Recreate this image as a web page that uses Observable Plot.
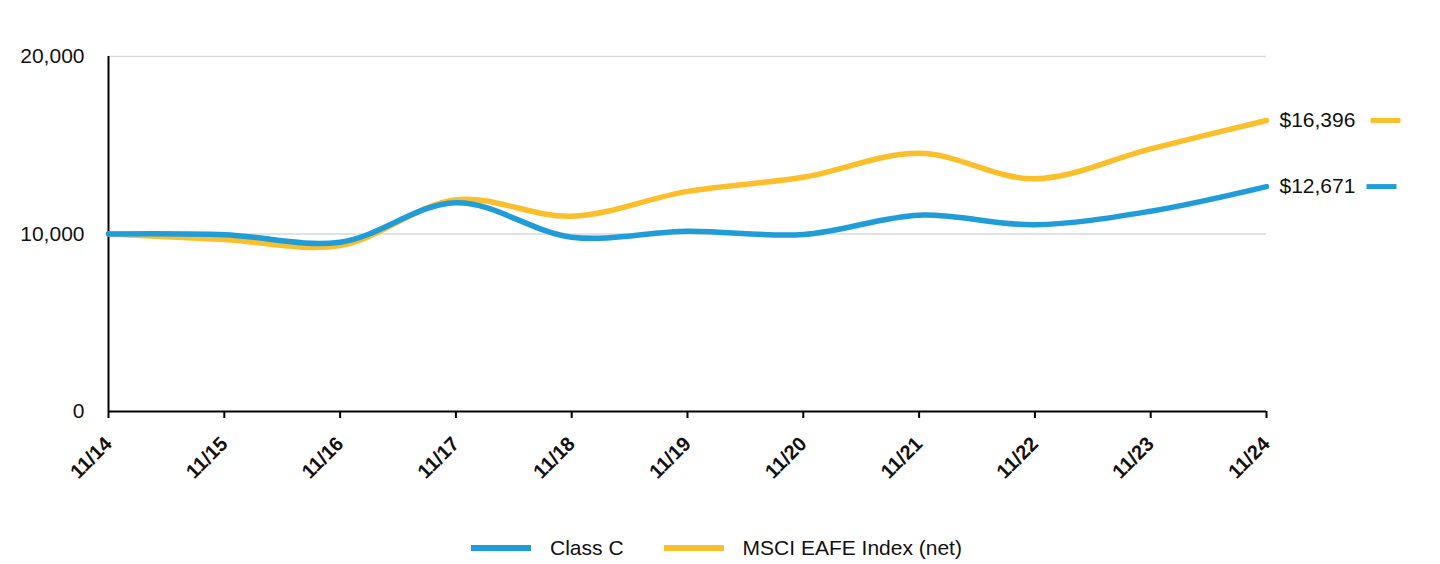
<!DOCTYPE html>
<html>
<head>
<meta charset="utf-8">
<script src="https://cdn.jsdelivr.net/npm/d3@7"></script>
<script src="https://cdn.jsdelivr.net/npm/@observablehq/plot@0.6"></script>
<style>
  body { margin: 0; background: #fff; font-family: "Liberation Sans", Arial, sans-serif; }
  #chart svg g[aria-label="y-axis tick label"] { font-size: 21px !important; }
  #chart svg g[aria-label="y-axis tick label"] text { font-size: 21px !important; }
  #chart svg g[aria-label="x-axis tick label"] { font-size: 20px !important; font-weight: bold; }
  #chart svg g[aria-label="x-axis tick label"] text { font-size: 20px !important; font-weight: bold; }
  #legend { display: flex; justify-content: center; align-items: center; height: 56px; font-size: 21px; color: #111; padding-right: 7px; }
  .item { display: flex; align-items: center; margin: 0 20px; }
  .sw { width: 60px; height: 6px; margin-right: 19px; }
</style>
</head>
<body>
<div id="chart"></div>
<div id="legend"></div>
<script>
const dates = ["11/14","11/15","11/16","11/17","11/18","11/19","11/20","11/21","11/22","11/23","11/24"];
const classC = [10000, 9960, 9540, 11760, 9820, 10160, 9970, 11060, 10520, 11285, 12671];
const msci = [10000, 9690, 9350, 11925, 11000, 12400, 13200, 14550, 13110, 14800, 16396];
const seriesNames = ["Class C", "MSCI EAFE Index (net)"];
const colors = ["#209cd8", "#fcbf2c"];
const yTicks = [0, 10000, 20000];

const rows = [];
dates.forEach((d, i) => {
  rows.push({date: d, value: classC[i], series: seriesNames[0]});
  rows.push({date: d, value: msci[i], series: seriesNames[1]});
});
const last = dates.length - 1;
const ends = [
  {date: dates[last], value: msci[last], series: seriesNames[1], dash: 119},
  {date: dates[last], value: classC[last], series: seriesNames[0], dash: 115}
];
const dashSymbol = { draw(ctx, size) { ctx.rect(-15, -2.5, 30, 5); } };
const fmt = d3.format(",");

const chart = Plot.plot({
  width: 1440,
  height: 520,
  marginTop: 56,
  marginBottom: 109,
  marginLeft: 108,
  marginRight: 174,
  style: { fontFamily: "Liberation Sans, Arial, sans-serif", fontSize: "18px", color: "#111" },
  x: { type: "point", domain: dates, padding: 0, round: false, range: [108, 1266] },
  y: { domain: [0, 20000], range: [411, 56] },
  color: { domain: seriesNames, range: colors },
  marks: [
    Plot.gridY(yTicks.slice(1), { stroke: "#d9d9d9", strokeOpacity: 1, strokeWidth: 1.5 }),
    Plot.axisY(yTicks, { tickSize: 0, tickPadding: 24, tickFormat: fmt, label: null }),
    Plot.axisX(dates, { tickSize: 7, tickRotate: -45, tickPadding: 22, label: null, stroke: "#000", strokeWidth: 2 }),
    Plot.ruleY([0], { stroke: "#000", strokeWidth: 2 }),
    Plot.ruleX([dates[0]], { stroke: "#000", strokeWidth: 2 }),
    Plot.line(rows.filter(r => r.series === seriesNames[1]), { x: "date", y: "value", stroke: "series", strokeWidth: 5.5, curve: "catmull-rom" }),
    Plot.line(rows.filter(r => r.series === seriesNames[0]), { x: "date", y: "value", stroke: "series", strokeWidth: 5.5, curve: "catmull-rom" }),
    Plot.text(ends, { x: "date", y: "value", text: d => "$" + fmt(d.value), dx: 13, textAnchor: "start", fontSize: 21, fill: "#111" }),
    Plot.dot([ends[0]], { x: "date", y: "value", symbol: dashSymbol, fill: colors[1], stroke: "none", dx: ends[0].dash }),
    Plot.dot([ends[1]], { x: "date", y: "value", symbol: dashSymbol, fill: colors[0], stroke: "none", dx: ends[1].dash })
  ]
});
document.getElementById("chart").appendChild(chart);

const legend = document.getElementById("legend");
seriesNames.forEach((name, i) => {
  const item = document.createElement("div");
  item.className = "item";
  const sw = document.createElement("span");
  sw.className = "sw";
  sw.style.background = colors[i];
  const label = document.createElement("span");
  label.textContent = name;
  item.appendChild(sw);
  item.appendChild(label);
  legend.appendChild(item);
});
</script>
</body>
</html>
